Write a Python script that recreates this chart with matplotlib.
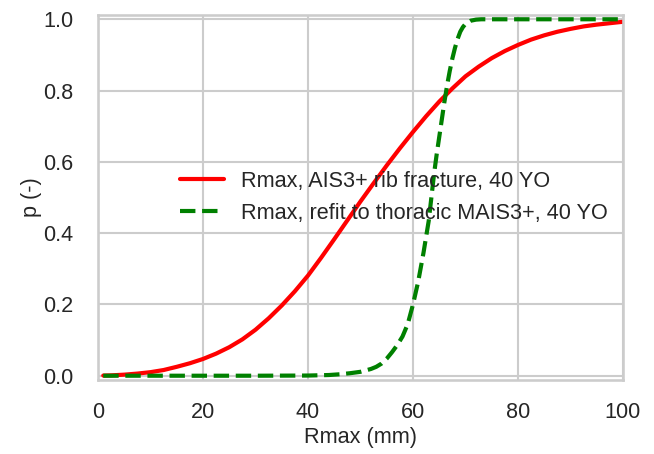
import matplotlib
matplotlib.use("Agg")
import matplotlib.pyplot as plt
import seaborn as sns

# Red curve: Rmax, AIS3+ rib fracture, 40 YO
red_x = [1, 2.5, 5, 7.5, 10, 12.5, 15, 17.5, 20, 22.5, 25, 27.5, 30, 32.5, 35,
         37.5, 40, 42.5, 45, 47.5, 50, 52.5, 55, 57.5, 60, 62.5, 65, 67.5, 70,
         72.5, 75, 77.5, 80, 82.5, 85, 87.5, 90, 92.5, 95, 97.5, 100]
red_p = [0.0005, 0.001, 0.003, 0.006, 0.010, 0.016, 0.025, 0.035, 0.047, 0.062,
         0.080, 0.102, 0.129, 0.161, 0.197, 0.237, 0.281, 0.331, 0.383, 0.436,
         0.489, 0.540, 0.590, 0.638, 0.684, 0.728, 0.769, 0.806, 0.840, 0.867,
         0.891, 0.911, 0.928, 0.943, 0.955, 0.965, 0.973, 0.980, 0.985, 0.989,
         0.993]

# Green curve: Rmax, refit to thoracic MAIS3+, 40 YO
green_x = [1, 10, 20, 30, 40, 44, 46, 48, 50, 52, 53, 54, 55, 56, 57, 58, 59,
           60, 61, 62, 63, 63.5, 64, 64.5, 65, 65.5, 66, 66.5, 67, 67.5, 68,
           68.5, 69, 69.5, 70, 71, 72, 73, 80, 90, 100]
green_p = [0.0, 0.0, 0.0, 0.0, 0.0005, 0.002, 0.004, 0.007, 0.011, 0.019, 0.025,
           0.034, 0.048, 0.066, 0.086, 0.11, 0.145, 0.20, 0.265, 0.345, 0.435,
           0.50, 0.565, 0.62, 0.67, 0.72, 0.77, 0.815, 0.855, 0.89, 0.92,
           0.945, 0.965, 0.978, 0.987, 0.996, 0.999, 1.0, 1.0, 1.0, 1.0]

labels = ["Rmax, AIS3+ rib fracture, 40 YO", "Rmax, refit to thoracic MAIS3+, 40 YO"]
x_ticks = [0, 20, 40, 60, 80, 100]
y_ticks = [0.0, 0.2, 0.4, 0.6, 0.8, 1.0]

sns.set_theme(style="whitegrid", context="talk")
plt.rcParams['font.family'] = ['Liberation Sans', 'DejaVu Sans']

fig = plt.figure(figsize=(6.54, 4.54), dpi=100)
ax = fig.add_axes([98/654, 1 - 380/454, (623-98)/654, (380-15)/454])

ax.plot(red_x, red_p, color="red", linestyle="-", linewidth=3, label=labels[0])
ax.plot(green_x, green_p, color="green", linestyle="--", linewidth=3, label=labels[1])

ax.set_xlim(0, 100)
ax.set_ylim(-0.012, 1.012)
ax.set_xticks(x_ticks)
ax.set_yticks(y_ticks)
ax.set_yticklabels([f"{v:.1f}" for v in y_ticks])
ax.set_xlabel("Rmax (mm)", fontsize=15.6, labelpad=3)
ax.set_ylabel("p (-)", fontsize=15.6, labelpad=1)
ax.tick_params(axis="x", labelsize=15.6, pad=7)
ax.tick_params(axis="y", labelsize=15.6, pad=8.5)
ax.legend(loc="center right", bbox_to_anchor=(1.008, 0.5), frameon=False, fontsize=15.6)

fig.savefig("out.png", dpi=100)
